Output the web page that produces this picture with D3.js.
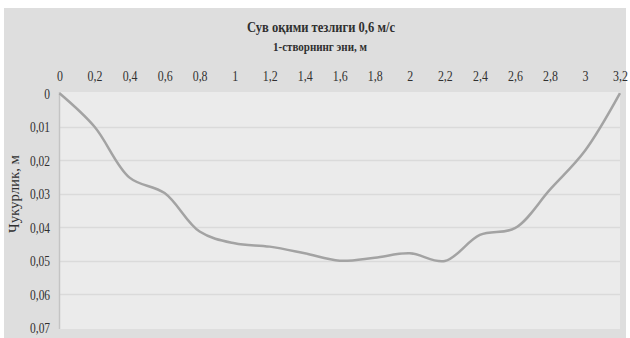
<!DOCTYPE html>
<html>
<head>
<meta charset="utf-8">
<script src="https://cdn.jsdelivr.net/npm/d3@7/dist/d3.min.js"></script>
<style>
  html, body { margin: 0; padding: 0; background: #ffffff; }
  svg { display: block; }
  text { font-family: "Liberation Serif", "Times New Roman", serif; fill: #303030; }
</style>
</head>
<body>
<svg id="chart" width="630" height="338"></svg>
<script>
// Channel cross-section: width position (m) and measured depth (m)
const widths = [0, 0.2, 0.4, 0.6, 0.8, 1.0, 1.2, 1.4, 1.6, 1.8, 2.0, 2.2, 2.4, 2.6, 2.8, 3.0, 3.2];
const depths = [0, 0.01, 0.0252, 0.0298, 0.0413, 0.0448, 0.0458, 0.0478, 0.05, 0.0491, 0.0478, 0.0501, 0.0423, 0.0403, 0.0288, 0.0172, 0];
const xTicks = [0, 0.2, 0.4, 0.6, 0.8, 1, 1.2, 1.4, 1.6, 1.8, 2, 2.2, 2.4, 2.6, 2.8, 3, 3.2];
const yTicks = [0, 0.01, 0.02, 0.03, 0.04, 0.05, 0.06, 0.07];
const titleText = "Сув оқими тезлиги 0,6 м/с";
const xAxisTitle = "1-створнинг эни, м";
const yAxisTitle = "Чукурлик, м";

const svg = d3.select("#chart");
const fmt = v => String(v).replace(".", ",");

// chart and plot backgrounds
svg.append("rect").attr("x", 4).attr("y", 8).attr("width", 622).attr("height", 330).attr("fill", "#dedede");

const plot = { left: 59.5, right: 620, top: 92, bottom: 329 };
svg.append("rect")
  .attr("x", plot.left).attr("y", plot.top)
  .attr("width", plot.right - plot.left).attr("height", plot.bottom - plot.top)
  .attr("fill", "#ebebeb");

const x = d3.scaleLinear().domain([0, 3.2]).range([plot.left, plot.right]);
const y = d3.scaleLinear().domain([0, 0.07]).range([93.2, 327.7]);

// horizontal gridlines
svg.append("g")
  .selectAll("line")
  .data(yTicks.filter(d => d > 0 && d < 0.07))
  .join("line")
  .attr("x1", plot.left).attr("x2", plot.right)
  .attr("y1", d => Math.round(y(d)) + 0.5).attr("y2", d => Math.round(y(d)) + 0.5)
  .attr("stroke", "#dadada").attr("stroke-width", 1.5);

// left axis line
svg.append("line")
  .attr("x1", plot.left).attr("x2", plot.left)
  .attr("y1", plot.top).attr("y2", plot.bottom)
  .attr("stroke", "#c4c4c4").attr("stroke-width", 1.5);

// top x-axis labels (narrow serif)
const xAxis = d3.axisTop(x).tickValues(xTicks).tickSize(0).tickPadding(0).tickFormat(fmt);
const gx = svg.append("g").attr("transform", "translate(0,81)").call(xAxis);
gx.select(".domain").remove();
gx.attr("font-size", null).attr("font-family", null);
gx.selectAll("text")
  .attr("y", 0).attr("dy", 0)
  .style("font-size", "14px").style("fill", "#303030")
  .style("transform-box", "fill-box").style("transform-origin", "center")
  .style("transform", "scaleX(0.85)");

// left y-axis labels
const yAxis = d3.axisLeft(y).tickValues(yTicks).tickSize(0).tickPadding(0).tickFormat(fmt);
const gy = svg.append("g").attr("transform", "translate(50,0)").call(yAxis);
gy.select(".domain").remove();
gy.attr("font-size", null).attr("font-family", null);
gy.selectAll("text")
  .attr("dy", "0.35em")
  .style("font-size", "14px").style("fill", "#303030")
  .style("transform-box", "fill-box").style("transform-origin", "right center")
  .style("transform", "scaleX(0.82)");

// titles
svg.append("text")
  .attr("x", 321).attr("y", 32).attr("text-anchor", "middle")
  .attr("font-size", 15.5).attr("font-weight", "bold")
  .attr("textLength", 148).attr("lengthAdjust", "spacingAndGlyphs")
  .text(titleText);
svg.append("text")
  .attr("x", 320).attr("y", 51).attr("text-anchor", "middle")
  .attr("font-size", 12.5).attr("font-weight", "bold")
  .attr("textLength", 94).attr("lengthAdjust", "spacingAndGlyphs")
  .text(xAxisTitle);
svg.append("text")
  .attr("transform", "translate(19,194) rotate(-90)")
  .attr("text-anchor", "middle")
  .attr("font-size", 14)
  .attr("textLength", 78).attr("lengthAdjust", "spacingAndGlyphs")
  .text(yAxisTitle);

// depth profile line
const line = d3.line()
  .x((d, i) => x(widths[i]))
  .y(d => y(d))
  .curve(d3.curveCatmullRom.alpha(0.5));
svg.append("path")
  .datum(depths)
  .attr("d", line)
  .attr("fill", "none")
  .attr("stroke", "#a3a3a3")
  .attr("stroke-width", 2.5)
  .attr("stroke-linejoin", "round");
</script>
</body>
</html>
